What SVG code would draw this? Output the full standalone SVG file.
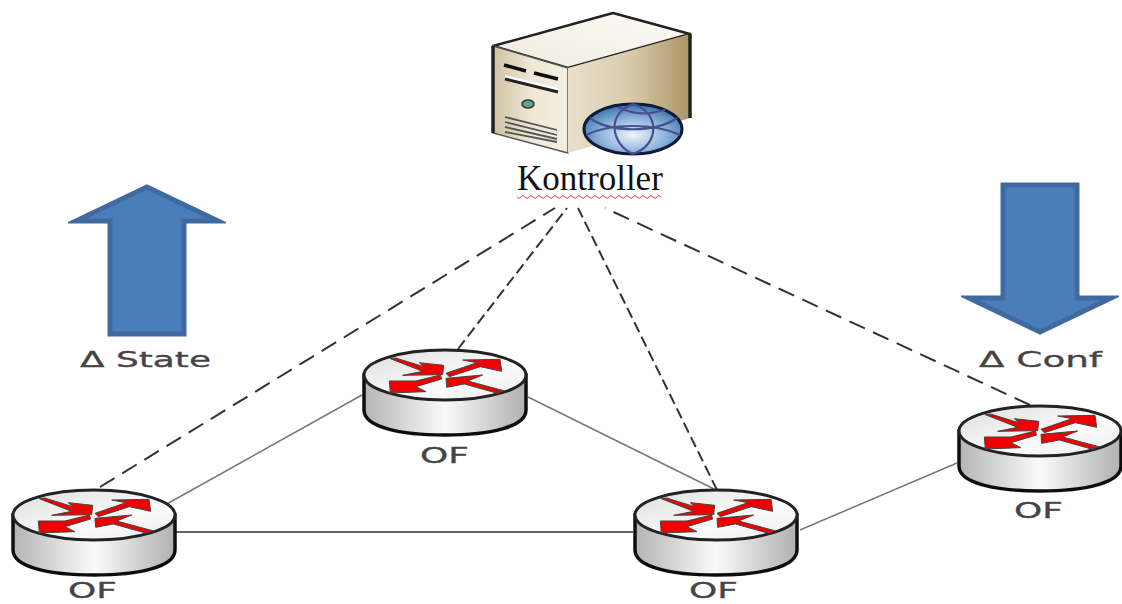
<svg xmlns="http://www.w3.org/2000/svg" width="1122" height="604" viewBox="0 0 1122 604">
<style>
.dash{fill:none;stroke:#333;stroke-width:2;stroke-dasharray:17 9}
.dash2{fill:none;stroke:#333;stroke-width:2;stroke-dasharray:11 5}
.link{fill:none;stroke:#777;stroke-width:1.5}
.link2{fill:none;stroke:#333;stroke-width:1.5}
.big{fill:#4a7ebb;stroke:#3f6a9f;stroke-width:5;stroke-linejoin:miter;stroke-miterlimit:8}
.lbl{font-family:"DejaVu Sans",sans-serif;font-size:22px;fill:#444;stroke:#444;stroke-width:.3}
.rarrow{fill:#f00000;stroke:#444;stroke-width:3;stroke-linejoin:round}
</style>
<defs>
<filter id="soft" x="-5%" y="-5%" width="110%" height="110%"><feGaussianBlur stdDeviation=".55"/></filter>
<linearGradient id="side" x1="0" x2="1" y1="0" y2="0">
<stop offset="0" stop-color="#b4b4b4"/><stop offset=".5" stop-color="#fafafa"/><stop offset="1" stop-color="#b0b0b0"/>
</linearGradient>
<linearGradient id="topf" x1="0" x2="1" y1="0" y2="1">
<stop offset="0" stop-color="#dedede"/><stop offset=".6" stop-color="#fbfbfb"/><stop offset="1" stop-color="#ececec"/>
</linearGradient>
<linearGradient id="srvR" x1="0" x2="1" y1="0" y2="0">
<stop offset="0" stop-color="#e9e0cd"/><stop offset=".5" stop-color="#d9cbab"/><stop offset="1" stop-color="#ab9566"/>
</linearGradient>
<linearGradient id="srvL" x1="0" x2="1" y1="0" y2="0">
<stop offset="0" stop-color="#cfc2a2"/><stop offset=".5" stop-color="#eee7d6"/><stop offset="1" stop-color="#f4efe3"/>
</linearGradient>
<linearGradient id="srvT" x1="0" x2="1" y1="1" y2="0">
<stop offset="0" stop-color="#f0ebdf"/><stop offset="1" stop-color="#fbfaf5"/>
</linearGradient>
<radialGradient id="globe" cx=".5" cy=".62" r=".6">
<stop offset="0" stop-color="#f0f5fa"/><stop offset=".55" stop-color="#8fb5dc"/><stop offset="1" stop-color="#3d74ad"/>
</radialGradient>
<g id="router">
<path d="M-81,0 V35 C-81,52 -45,60 0,60 C45,60 81,52 81,35 V0 Z" fill="url(#side)" stroke="#111" stroke-width="3.5"/>
<ellipse cx="0" cy="0" rx="81" ry="25" fill="url(#topf)" stroke="#222" stroke-width="3"/>
<g transform="scale(.3333) translate(-282,-135)">
<polygon class="rarrow" points="118,86 134,84 218,110 205,98 278,106 275,134 155,136 215,124"/>
<polygon class="rarrow" points="285,130 378,98 335,90 447,88 452,124 388,110 295,140"/>
<polygon class="rarrow" points="115,153 195,153 268,135 272,147 195,170 225,185 118,189"/>
<polygon class="rarrow" points="285,145 395,135 350,153 458,182 440,190 340,162 287,172"/>
</g>
</g>
</defs>
<rect width="1122" height="604" fill="#fff"/>
<g id="connectors" filter="url(#soft)">
<line class="dash" x1="100" y1="487" x2="555" y2="208"/>
<line class="dash2" x1="458" y1="349" x2="567" y2="208"/>
<line class="dash2" x1="717" y1="490" x2="578" y2="208"/>
<line class="dash" x1="1030" y1="405" x2="605" y2="208"/>
<line class="link" x1="165" y1="505" x2="362" y2="395"/>
<line class="link" x1="528" y1="397" x2="716" y2="490"/>
<line class="link2" x1="176" y1="532" x2="633" y2="532"/>
<line class="link" x1="800" y1="530" x2="957" y2="463"/>
</g>
<g id="controller" filter="url(#soft)">
<polygon points="493,46 613,13 690,34 568,68" fill="url(#srvT)" stroke="#222" stroke-width="2.5" stroke-linejoin="round"/>
<polygon points="493,46 568,68 568,153 493,133" fill="url(#srvL)" stroke="#555" stroke-width="1.5"/>
<polygon points="568,68 690,34 690,118 568,153" fill="url(#srvR)"/>
<path d="M493,46 V133" stroke="#222" stroke-width="3.5"/>
<path d="M690,34 V118" stroke="#222" stroke-width="3.5"/>
<path d="M504,65 L526,71 M534,73 L558,79" stroke="#111" stroke-width="3.5" fill="none"/>
<path d="M505,75 L558,88 V93 L505,79 Z" fill="#fff"/>
<path d="M505,79 L558,92" stroke="#222" stroke-width="3" fill="none"/>
<ellipse cx="528" cy="104" rx="6" ry="4" fill="#5fa58c" stroke="#333" stroke-width="1.5"/>
<path d="M505,117 L557,130 M505,122 L557,135 M505,127 L557,139 M505,132 L557,142" stroke="#555" stroke-width="1.8" fill="none"/>
<ellipse cx="633" cy="129" rx="49" ry="25" fill="url(#globe)" stroke="#0f1a38" stroke-width="3"/>
<path d="M633,104 C605,114 612,145 633,154 M633,104 C660,112 660,145 633,154 M590,118 C610,133 655,133 677,118 M586,135 C610,123 655,123 680,135 M618,107 C640,118 655,112 665,110" fill="none" stroke="#48508f" stroke-width="2.2"/>
</g>
<g id="controller-label">
<text x="517" y="190" style="font-family:'Liberation Serif',serif;font-size:35px;fill:#111">Kontroller</text>
<path d="M517,197 q2,3 4,0 t4,0 t4,0 t4,0 t4,0 t4,0 t4,0 t4,0 t4,0 t4,0 t4,0 t4,0 t4,0 t4,0 t4,0 t4,0 t4,0 t4,0 t4,0 t4,0 t4,0 t4,0 t4,0 t4,0 t4,0 t4,0 t4,0 t4,0 t4,0 t4,0 t4,0 t4,0 t4,0 t4,0 t4,0 t4,0" fill="none" stroke="#f04040" stroke-width="1"/>
</g>
<g id="state-arrow">
<polygon class="big" filter="url(#soft)" points="147,187 76,221 110,221 110,334 184,334 184,221 218,221"/>
<text class="lbl" x="80" y="367" textLength="131" lengthAdjust="spacingAndGlyphs">Δ State</text>
</g>
<g id="conf-arrow">
<polygon class="big" filter="url(#soft)" points="1003,185 1077,185 1077,298 1111,298 1040,332 969,298 1003,298"/>
<text class="lbl" x="979" y="367" textLength="123" lengthAdjust="spacingAndGlyphs">Δ Conf</text>
</g>
<g id="router-1"><use href="#router" x="94" y="515" filter="url(#soft)"/><text class="lbl" x="68" y="598" textLength="49" lengthAdjust="spacingAndGlyphs">OF</text></g>
<g id="router-2"><use href="#router" x="445" y="375" filter="url(#soft)"/><text class="lbl" x="420" y="463" textLength="49" lengthAdjust="spacingAndGlyphs">OF</text></g>
<g id="router-3"><use href="#router" x="716" y="515" filter="url(#soft)"/><text class="lbl" x="689" y="598" textLength="49" lengthAdjust="spacingAndGlyphs">OF</text></g>
<g id="router-4"><use href="#router" x="1040" y="431" filter="url(#soft)"/><text class="lbl" x="1014" y="518" textLength="49" lengthAdjust="spacingAndGlyphs">OF</text></g>
</svg>
